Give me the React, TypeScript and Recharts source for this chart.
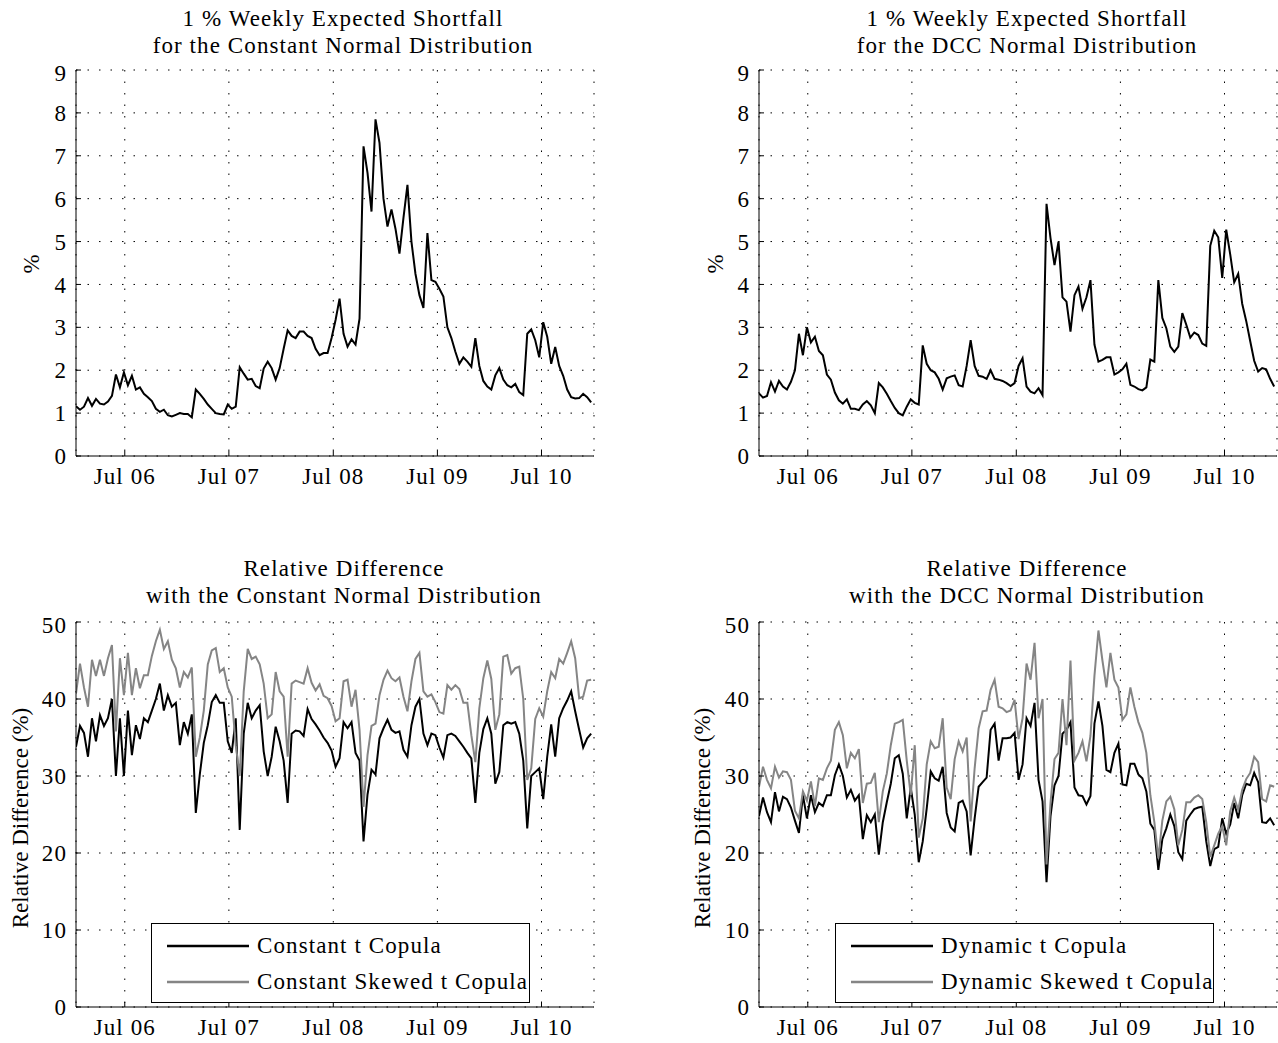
import React from "react";
import { CartesianGrid, Legend, Line, LineChart, XAxis, YAxis } from "recharts";

const FONT = '"Liberation Serif", "Times New Roman", Times, serif';
const DAY_MS = 86400000;

// fortnightly observations starting 11 Jan 2006
const FIRST_OBS = Date.UTC(2006, 0, 11);
const OBS_STEP_DAYS = 14;

// 1% weekly expected shortfall (%), constant normal
const constNormalES = [
  1.16, 1.08, 1.15, 1.35, 1.17, 1.33, 1.22, 1.2, 1.27, 1.4,
  1.9, 1.6, 1.95, 1.65, 1.87, 1.55, 1.6, 1.45, 1.37, 1.28,
  1.1, 1.03, 1.08, 0.95, 0.92, 0.96, 1.0, 0.98, 0.98, 0.9,
  1.55, 1.45, 1.33, 1.2, 1.1, 1.0, 0.98, 0.97, 1.2, 1.1,
  1.15, 2.07, 1.92, 1.78, 1.8, 1.63, 1.58, 2.04, 2.2, 2.05,
  1.78, 2.05, 2.5, 2.93, 2.8, 2.75, 2.9, 2.9, 2.8, 2.75,
  2.5, 2.35, 2.4, 2.4, 2.75, 3.17, 3.67, 2.85, 2.55, 2.72,
  2.6, 3.2, 7.22, 6.6, 5.7, 7.85, 7.3, 6.0, 5.35, 5.75,
  5.3, 4.72, 5.55, 6.32, 5.0, 4.25, 3.75, 3.45, 5.2, 4.1,
  4.06, 3.9, 3.72, 3.0, 2.75, 2.43, 2.15, 2.3, 2.2, 2.08,
  2.75, 2.1, 1.75, 1.62, 1.55, 1.88, 2.05, 1.78, 1.65, 1.6,
  1.68, 1.49, 1.42, 2.85, 2.95, 2.7, 2.3, 3.12, 2.78, 2.15,
  2.54, 2.1, 1.87, 1.55, 1.37, 1.34, 1.35, 1.45, 1.37, 1.25,
];

// 1% weekly expected shortfall (%), DCC normal
const dccNormalES = [
  1.46, 1.36, 1.4, 1.72, 1.5, 1.75, 1.62, 1.55, 1.73, 2.0,
  2.85, 2.35, 3.0, 2.65, 2.78, 2.45, 2.35, 1.9, 1.78, 1.48,
  1.3, 1.22, 1.32, 1.1, 1.1, 1.07, 1.2, 1.28, 1.18, 1.0,
  1.7, 1.6, 1.45, 1.28, 1.12, 1.0, 0.95, 1.15, 1.32, 1.24,
  1.2, 2.58, 2.15, 2.0, 1.95, 1.8, 1.55, 1.81, 1.85, 1.88,
  1.65, 1.62, 2.1, 2.7, 2.1, 1.87, 1.85, 1.8, 2.0, 1.8,
  1.78, 1.75, 1.7, 1.63, 1.7, 2.1, 2.28, 1.62, 1.5, 1.46,
  1.58, 1.42, 5.88, 5.08, 4.45, 5.0, 3.7, 3.6, 2.9, 3.75,
  3.95, 3.43, 3.7, 4.1, 2.6, 2.2, 2.24, 2.3, 2.3, 1.9,
  1.95, 2.02, 2.15, 1.66, 1.62, 1.56, 1.53, 1.6, 2.25, 2.2,
  4.1, 3.22, 2.98, 2.55, 2.43, 2.55, 3.33, 3.06, 2.76, 2.88,
  2.82, 2.62, 2.57, 4.9, 5.25, 5.1, 4.15, 5.28, 4.7, 4.05,
  4.25, 3.55, 3.15, 2.68, 2.22, 1.97, 2.05, 2.02, 1.8, 1.62,
];

// relative difference (%) vs constant normal
const constTCopula = [
  33.8, 36.5, 35.6, 32.5, 37.5, 34.5, 37.9, 36.5, 37.5, 40.0,
  30.0, 37.5, 30.0, 38.5, 32.7, 36.6, 34.8, 37.5, 37.0, 38.5,
  40.0, 42.0, 38.5, 40.5, 39.0, 39.5, 34.0, 37.0, 35.5, 38.0,
  25.2, 30.2, 34.3, 36.6, 39.6, 40.5, 39.5, 39.5, 34.5, 33.0,
  37.5, 23.0, 35.5, 39.5, 37.5, 38.5, 39.2, 33.2, 30.0, 32.5,
  36.4, 34.5, 32.0, 26.5, 35.5, 35.9, 35.8, 35.2, 38.7, 37.4,
  36.7, 35.9, 35.0, 34.3, 33.3, 31.2, 32.3, 37.0, 36.2, 37.0,
  33.0, 32.0, 21.5, 27.6, 30.8, 30.2, 34.9, 36.2, 37.3, 36.0,
  35.6, 35.8, 33.4, 32.5, 36.6, 39.0, 40.0, 35.5, 34.0, 35.5,
  35.3, 33.7, 32.4, 35.3, 35.5, 35.2, 34.5, 33.8, 33.0, 32.3,
  26.5, 33.0, 36.1, 37.5, 35.5, 29.0, 30.5, 36.6, 37.0, 36.8,
  37.0, 35.5, 32.0, 23.2, 30.0, 30.5, 31.0, 27.0, 32.5, 36.7,
  32.5, 37.5, 38.8, 39.8, 41.0, 38.4, 36.0, 33.7, 34.9, 35.5,
];
const constSkewTCopula = [
  40.7, 44.6, 41.5, 39.0, 45.1, 43.0, 45.1, 43.0, 45.3, 47.0,
  35.8, 45.3, 40.5, 46.0, 40.5, 44.0, 41.4, 43.1, 43.1, 45.6,
  47.5, 49.0, 46.5, 47.5, 45.1, 44.0, 41.5, 43.5, 42.8, 44.1,
  32.5, 35.0, 38.5, 44.5, 46.3, 46.6, 43.5, 44.0, 41.5, 40.3,
  34.0, 30.0, 41.0, 46.5, 45.2, 45.5, 44.5, 42.0, 37.5, 38.0,
  43.5, 41.0, 40.3, 32.5, 42.0, 42.4, 42.2, 42.0, 44.0, 42.1,
  41.1, 41.9, 40.4, 40.1, 39.1, 37.1, 37.5, 42.3, 42.5, 39.0,
  41.2, 36.0, 26.0, 32.7, 36.5, 36.8, 40.5, 42.5, 43.7, 42.7,
  42.3, 42.8, 40.3, 38.4, 42.3, 45.2, 46.0, 41.0, 40.3, 40.6,
  39.6, 38.3, 38.1, 41.8, 41.2, 41.8, 41.3, 39.5, 39.5, 35.3,
  31.8, 38.8, 42.7, 45.0, 42.6, 36.0, 38.0, 45.5, 45.7, 43.3,
  44.0, 44.2, 40.0, 29.5, 31.0, 37.4, 38.8, 37.7, 41.0, 43.5,
  42.7, 45.2, 44.6, 46.0, 47.5, 45.3, 40.1, 40.3, 42.4, 42.5,
];

// relative difference (%) vs DCC normal
const dynTCopula = [
  24.8, 27.2, 25.3, 24.0, 27.9, 25.4, 27.3, 27.0, 25.9, 24.2,
  22.6, 27.5, 24.5, 27.5, 25.3, 26.5, 26.1, 27.5, 27.5, 30.1,
  31.5, 30.0, 27.2, 28.2, 26.8, 27.5, 21.8, 24.9, 24.0, 25.0,
  19.8, 24.0, 26.6, 29.0, 32.3, 32.7, 30.3, 24.5, 28.5, 25.0,
  18.8, 21.5, 25.8, 30.6, 29.7, 29.4, 31.2, 25.2, 23.3, 22.8,
  26.5, 26.8, 25.4, 19.7, 24.5, 28.6, 29.2, 29.8, 36.0, 36.8,
  32.0, 34.9, 34.9, 35.0, 35.6, 29.5, 31.5, 37.5, 36.5, 39.5,
  29.5, 26.7, 16.2, 24.8, 28.8, 30.0, 35.5, 36.0, 37.0, 28.5,
  27.5, 27.4, 26.3, 27.4, 36.8, 39.7, 36.5, 30.8, 30.5, 33.0,
  34.2, 28.9, 28.8, 31.6, 31.6, 30.2, 29.7, 28.0, 23.8, 23.0,
  17.8, 21.8, 23.2, 25.0, 23.5, 20.1, 19.2, 24.2, 25.0, 25.7,
  25.9, 26.0, 21.5, 18.3, 20.5, 20.8, 24.5, 22.5, 23.7, 26.5,
  24.5, 27.5, 29.0, 28.8, 30.4, 29.2, 24.0, 23.9, 24.5, 23.6,
];
const dynSkewTCopula = [
  28.6, 31.2, 29.5, 28.4, 31.2, 29.8, 30.6, 30.5, 29.5, 25.5,
  24.5, 28.0, 26.8, 29.3, 26.1, 29.7, 29.5, 31.0, 32.0, 36.0,
  37.0, 35.3, 31.0, 33.0, 32.3, 33.5, 26.5, 29.0, 29.1, 30.4,
  24.0, 28.0, 30.3, 34.0, 36.8, 37.0, 37.3, 32.0, 27.5, 34.0,
  22.0, 24.5, 31.5, 34.5, 33.6, 33.8, 37.5, 28.5, 27.0, 32.2,
  34.5, 33.2, 35.0, 24.1, 31.0, 36.2, 38.4, 38.5, 41.2, 42.5,
  39.0, 38.8, 38.3, 38.5, 39.9, 34.8, 37.5, 44.6, 42.5, 47.3,
  37.5, 40.0, 18.5, 26.5, 32.2, 33.0, 40.0, 34.0, 45.0, 32.0,
  33.0, 34.5, 31.9, 35.2, 43.0, 48.9, 45.0, 41.5, 46.0, 42.5,
  41.5, 37.3, 38.0, 41.5, 39.0, 37.0, 35.6, 33.0, 27.5, 24.0,
  19.3, 24.2, 26.7, 27.3, 25.7, 21.0, 23.0, 26.6, 26.6, 27.2,
  27.5, 27.0, 24.0, 19.5, 21.0, 22.5, 23.5, 21.0, 25.4, 27.2,
  25.6, 28.2, 29.6, 30.4, 32.5, 31.8, 27.0, 26.7, 28.8, 28.6,
];

const obsDates = constNormalES.map((_, i) => FIRST_OBS + i * OBS_STEP_DAYS * DAY_MS);

const julyTicks = [2006, 2007, 2008, 2009, 2010].map((y) => Date.UTC(y, 6, 1));
const dateDomain = [FIRST_OBS, Date.UTC(2011, 0, 1)];
const esTicks = [0, 1, 2, 3, 4, 5, 6, 7, 8, 9];
const diffTicks = [0, 10, 20, 30, 40, 50];

const fmtJuly = (t: number) => `Jul ${String(new Date(t).getUTCFullYear()).slice(2)}`;

type Series = { key: string; name: string; color: string; values: number[] };

const BLACK = "#000000";
const GREY = "#858585";

function LegendBox({ payload, order }: any) {
  // keep entries in plotting order, not alphabetical
  const items = [...(payload || [])].sort(
    (a: any, b: any) => order.indexOf(a.value) - order.indexOf(b.value)
  );
  return (
    <div
      style={{
        width: 379,
        height: 80,
        border: "1px solid #000",
        boxSizing: "border-box",
        background: "#fff",
        position: "relative",
        fontFamily: FONT,
      }}
    >
      {items.map((entry: any, i: number) => (
        <div
          key={entry.value}
          style={{ position: "absolute", left: 0, top: 4 + i * 36, height: 36, display: "flex", alignItems: "center" }}
        >
          <svg width={100} height={36} style={{ display: "block" }}>
            <line x1={15} x2={97} y1={18} y2={18} stroke={entry.color} strokeWidth={2.5} />
          </svg>
          <span style={{ fontSize: 23, letterSpacing: 1.1, marginLeft: 5, color: "#000", whiteSpace: "nowrap" }}>
            {entry.value}
          </span>
        </div>
      ))}
    </div>
  );
}

type PanelProps = {
  left: number;
  top: number;
  width: number;
  height: number;
  margin: { top: number; right: number; bottom: number; left: number };
  yDomain: [number, number];
  yTicks: number[];
  series: Series[];
  legendPos?: { left: number; top: number };
};

function Panel({ left, top, width, height, margin, yDomain, yTicks, series, legendPos }: PanelProps) {
  const rows = obsDates.map((date, i) => {
    const row: Record<string, number> = { date };
    series.forEach((s) => {
      row[s.key] = s.values[i];
    });
    return row;
  });
  const order = series.map((s) => s.name);

  return (
    <div style={{ position: "absolute", left, top }}>
      <LineChart width={width} height={height} data={rows} margin={margin}>
        <CartesianGrid stroke="#000" strokeWidth={1} strokeDasharray="1.5 10" />
        <XAxis
          dataKey="date"
          type="number"
          domain={dateDomain}
          ticks={julyTicks}
          tickFormatter={fmtJuly}
          allowDataOverflow
          height={30}
          tickSize={-5}
          tickMargin={17}
          stroke="#000"
          tick={{ fill: "#000", fontSize: 23, fontFamily: FONT }}
        />
        <XAxis
          xAxisId="top"
          orientation="top"
          dataKey="date"
          type="number"
          domain={dateDomain}
          ticks={julyTicks}
          allowDataOverflow
          height={0}
          tickSize={-5}
          tick={false}
          stroke="#000"
        />
        <YAxis
          type="number"
          domain={yDomain}
          ticks={yTicks}
          allowDataOverflow
          width={56}
          tickSize={-5}
          tickMargin={14}
          stroke="#000"
          tick={{ fill: "#000", fontSize: 23, fontFamily: FONT }}
        />
        <YAxis
          yAxisId="right"
          orientation="right"
          type="number"
          domain={yDomain}
          ticks={yTicks}
          allowDataOverflow
          width={0}
          tickSize={-5}
          tick={false}
          stroke="#000"
        />
        {series.map((s) => (
          <Line
            key={s.key}
            type="linear"
            dataKey={s.key}
            name={s.name}
            stroke={s.color}
            strokeWidth={2}
            dot={false}
            activeDot={false}
            isAnimationActive={false}
          />
        ))}
        {legendPos && (
          <Legend
            layout="vertical"
            align="center"
            verticalAlign="middle"
            wrapperStyle={{ left: legendPos.left, top: legendPos.top, width: 379, height: 80 }}
            content={(props: any) => <LegendBox {...props} order={order} />}
          />
        )}
      </LineChart>
    </div>
  );
}

function Title({ cx, top, lines }: { cx: number; top: number; lines: string[] }) {
  return (
    <div
      style={{
        position: "absolute",
        left: cx - 300,
        top,
        width: 600,
        textAlign: "center",
        fontFamily: FONT,
        fontSize: 23,
        lineHeight: "27px",
        letterSpacing: 1.1,
        color: "#000",
        whiteSpace: "nowrap",
      }}
    >
      {lines.map((l) => (
        <div key={l}>{l}</div>
      ))}
    </div>
  );
}

function AxisTitle({ cx, cy, text }: { cx: number; cy: number; text: string }) {
  return (
    <div
      style={{
        position: "absolute",
        left: cx,
        top: cy,
        transform: "translate(-50%, -50%) rotate(-90deg)",
        fontFamily: FONT,
        fontSize: 23,
        lineHeight: "27px",
        color: "#000",
        whiteSpace: "nowrap",
      }}
    >
      {text}
    </div>
  );
}

const topMarginL = { top: 10, right: 46, bottom: 14, left: 20 };
const topMarginR = { top: 10, right: 1, bottom: 14, left: 63 };
const botMarginL = { top: 10, right: 46, bottom: 6, left: 20 };
const botMarginR = { top: 10, right: 1, bottom: 6, left: 63 };

export default function App() {
  return (
    <div
      style={{
        position: "absolute",
        left: 0,
        top: 0,
        width: 1278,
        height: 1043,
        background: "#fff",
        overflow: "hidden",
      }}
    >
      <style>{`.recharts-cartesian-axis-tick-value { letter-spacing: 1.1px; }`}</style>

      <Title cx={343} top={5} lines={["1 % Weekly Expected Shortfall", "for the Constant Normal Distribution"]} />
      <AxisTitle cx={31} cy={264} text="%" />
      <Panel
        left={0}
        top={60}
        width={640}
        height={440}
        margin={topMarginL}
        yDomain={[0, 9]}
        yTicks={esTicks}
        series={[{ key: "es", name: "Constant Normal", color: BLACK, values: constNormalES }]}
      />

      <Title cx={1027} top={5} lines={["1 % Weekly Expected Shortfall", "for the DCC Normal Distribution"]} />
      <AxisTitle cx={715} cy={264} text="%" />
      <Panel
        left={640}
        top={60}
        width={638}
        height={440}
        margin={topMarginR}
        yDomain={[0, 9]}
        yTicks={esTicks}
        series={[{ key: "es", name: "DCC Normal", color: BLACK, values: dccNormalES }]}
      />

      <Title cx={344} top={555} lines={["Relative Difference", "with the Constant Normal Distribution"]} />
      <AxisTitle cx={20} cy={818} text="Relative Difference (%)" />
      <Panel
        left={0}
        top={612}
        width={640}
        height={431}
        margin={botMarginL}
        yDomain={[0, 50]}
        yTicks={diffTicks}
        series={[
          { key: "tCop", name: "Constant t Copula", color: BLACK, values: constTCopula },
          { key: "skewTCop", name: "Constant Skewed t Copula", color: GREY, values: constSkewTCopula },
        ]}
        legendPos={{ left: 151, top: 311 }}
      />

      <Title cx={1027} top={555} lines={["Relative Difference", "with the DCC Normal Distribution"]} />
      <AxisTitle cx={702} cy={818} text="Relative Difference (%)" />
      <Panel
        left={640}
        top={612}
        width={638}
        height={431}
        margin={botMarginR}
        yDomain={[0, 50]}
        yTicks={diffTicks}
        series={[
          { key: "tCop", name: "Dynamic t Copula", color: BLACK, values: dynTCopula },
          { key: "skewTCop", name: "Dynamic Skewed t Copula", color: GREY, values: dynSkewTCopula },
        ]}
        legendPos={{ left: 195, top: 311 }}
      />
    </div>
  );
}
